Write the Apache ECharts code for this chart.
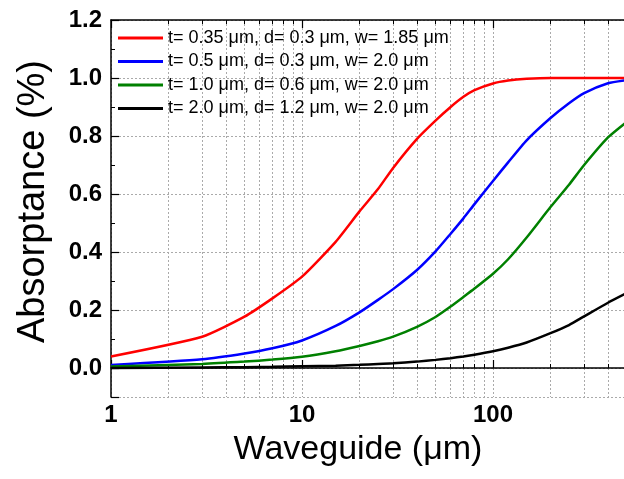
<!DOCTYPE html>
<html>
<head>
<meta charset="utf-8">
<script src="https://cdn.jsdelivr.net/npm/echarts@6/dist/echarts.min.js"></script>
<style>
  html, body { margin: 0; padding: 0; background: #fff; }
  #main { width: 624px; height: 479px; }
</style>
</head>
<body>
<div id="main"></div>
<script>
// waveguide length (um), sampled positions
const waveguide = [1, 3, 5, 7, 10, 15, 20, 25, 30, 40, 50, 60, 70, 80, 100, 120, 150, 200, 250, 300, 400, 500];

const seriesNames = [
  't= 0.35 \u03bcm, d= 0.3 \u03bcm, w= 1.85 \u03bcm',
  't= 0.5 \u03bcm, d= 0.3 \u03bcm, w= 2.0 \u03bcm',
  't= 1.0 \u03bcm, d= 0.6 \u03bcm, w= 2.0 \u03bcm',
  't= 2.0 \u03bcm, d= 1.2 \u03bcm, w= 2.0 \u03bcm'
];

const absRed   = [0.04, 0.108, 0.177, 0.24, 0.315, 0.435, 0.54, 0.617, 0.69, 0.79, 0.853, 0.9, 0.935, 0.958, 0.981, 0.991, 0.997, 1.0, 1.0, 1.0, 1.0, 1.0];
const absBlue  = [0.01, 0.03, 0.05, 0.068, 0.095, 0.145, 0.192, 0.235, 0.272, 0.338, 0.402, 0.463, 0.516, 0.565, 0.645, 0.709, 0.785, 0.862, 0.913, 0.948, 0.982, 0.993];
const absGreen = [0.005, 0.014, 0.022, 0.029, 0.039, 0.058, 0.076, 0.092, 0.108, 0.142, 0.176, 0.212, 0.245, 0.274, 0.325, 0.375, 0.45, 0.555, 0.632, 0.7, 0.795, 0.848];
const absBlack = [0.0, 0.002, 0.003, 0.004, 0.006, 0.008, 0.011, 0.014, 0.016, 0.022, 0.028, 0.034, 0.04, 0.046, 0.058, 0.07, 0.088, 0.12, 0.148, 0.178, 0.225, 0.258];

const colors = ['#ff0000', '#0000ff', '#008000', '#000000'];
const font = 'Liberation Sans, Arial, sans-serif';

const pairs = (ys) => waveguide.map((x, i) => [x, ys[i]]);

let myChart = echarts.init(document.getElementById('main'));

const axisLine = { lineStyle: { color: '#000', width: 1.5 } };

myChart.setOption({
  animation: false,
  textStyle: { fontFamily: font },
  grid: { left: 111, top: 20, right: -60, bottom: 82, outerBoundsMode: 'none', containLabel: false },
  legend: {
    left: 118,
    top: 29,
    padding: 0,
    orient: 'vertical',
    icon: 'rect',
    itemWidth: 45,
    itemHeight: 3,
    itemGap: 5.5,
    textStyle: { fontSize: 18, color: '#000', fontFamily: font },
    data: seriesNames
  },
  xAxis: [
    {
      type: 'log',
      logBase: 10,
      min: 1,
      max: 1000,
      name: 'Waveguide (\u03bcm)',
      nameLocation: 'middle',
      nameGap: 36,
      nameTextStyle: { fontSize: 34, color: '#000', padding: [0, 79, 0, 0] },
      axisLine: axisLine,
      axisTick: { inside: true, length: 8, lineStyle: { color: '#000', width: 1.2 } },
      minorTick: { show: true, splitNumber: 9, length: 4, lineStyle: { color: '#000', width: 1 } },
      axisLabel: { fontSize: 24, fontWeight: 'bold', color: '#000', margin: 6, formatter: (v) => String(v) },
      splitLine: { show: true, lineStyle: { color: '#aaa', type: [2, 2], width: 1 } },
      minorSplitLine: { show: true, lineStyle: { color: '#aaa', type: [2, 2], width: 1 } }
    },
    {
      type: 'log',
      logBase: 10,
      min: 1,
      max: 1000,
      position: 'top',
      axisLine: axisLine,
      axisTick: { inside: true, length: 8, lineStyle: { color: '#000', width: 1.2 } },
      minorTick: { show: true, splitNumber: 9, length: 4, lineStyle: { color: '#000', width: 1 } },
      axisLabel: { show: false },
      splitLine: { show: false }
    }
  ],
  yAxis: {
    type: 'value',
    min: -0.1,
    max: 1.2,
    splitNumber: 6,
    name: 'Absorptance (%)',
    nameLocation: 'middle',
    nameGap: 58,
    nameTextStyle: { fontSize: 38, color: '#000', padding: [0, 0, 0, 14] },
    axisLine: axisLine,
    axisTick: { inside: true, length: 8, lineStyle: { color: '#000', width: 1.2 } },
    minorTick: { show: true, splitNumber: 2, length: 4, lineStyle: { color: '#000', width: 1 } },
    axisLabel: {
      fontSize: 24, fontWeight: 'bold', color: '#000', margin: 9, showMinLabel: false,
      formatter: (v) => v.toFixed(1)
    },
    splitLine: { show: true, lineStyle: { color: '#aaa', type: [2, 2], width: 1 } }
  },
  series: [absRed, absBlue, absGreen, absBlack].map((d, i) => ({
    name: seriesNames[i],
    type: 'line',
    data: pairs(d),
    color: colors[i],
    showSymbol: false,
    smooth: 0.2,
    lineStyle: { width: 2.5 }
  }))
});
</script>
</body>
</html>
